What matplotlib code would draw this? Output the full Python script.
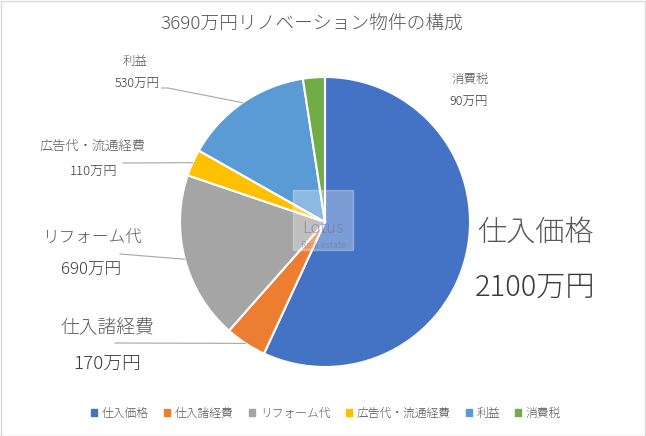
import numpy as np
import matplotlib
matplotlib.use("Agg")
import matplotlib.pyplot as plt

plt.rcParams['font.family'] = ['Noto Sans CJK JP', 'DejaVu Sans']
plt.rcParams['font.weight'] = 'light'

# データ
categories = ["仕入価格", "仕入諸経費", "リフォーム代", "広告代・流通経費", "利益", "消費税"]
values = [2100, 170, 690, 110, 530, 90]
value_labels = ["2100万円", "170万円", "690万円", "110万円", "530万円", "90万円"]
colors = ["#4472C4", "#ED7D31", "#A5A5A5", "#FFC000", "#5B9BD5", "#70AD47"]
title = "3690万円リノベーション物件の構成"

W, H = 646, 436
fig = plt.figure(figsize=(W / 100, H / 100), dpi=100)
ax = fig.add_axes([0, 0, 1, 1])

cx, cy, r = 325, H - 222, 145
wedges, _ = ax.pie(values, colors=colors, startangle=90, counterclock=False,
                   center=(cx, cy), radius=r,
                   wedgeprops=dict(edgecolor="white", linewidth=1.5))
ax.set_xlim(0, W)
ax.set_ylim(0, H)
ax.set_aspect("equal")
ax.axis("off")

txt = "#595959"
# ラベル配置 (名前の位置, 値の位置, 文字サイズ, 引き出し線の始点)
label_layout = [
    ((535, 233), (535, 287), 21, None),
    ((107, 328), (107, 364), 13.5, (115, 343)),
    ((92, 238), (91, 269), 12, (120, 254)),
    ((92, 146), (94, 171), 9.5, (123, 163)),
    ((135, 62), (137, 83), 9, (162, 88)),
    ((470, 79), (469, 101), 9, None),
]

for w, name, vlab, (p1, p2, fs, ls) in zip(wedges, categories, value_labels, label_layout):
    ax.text(p1[0], H - p1[1], name, fontsize=fs, color=txt, ha="center", va="center")
    ax.text(p2[0], H - p2[1], vlab, fontsize=fs, color="#3A3A3A", ha="center", va="center")
    if ls is not None:
        mid = np.deg2rad((w.theta1 + w.theta2) / 2)
        ex, ey = cx + r * np.cos(mid), cy + r * np.sin(mid)
        xs = [ls[0], ls[0] + 6, ex] if ls[1] == 88 else [ls[0], ex]
        ys = [H - ls[1], H - ls[1], ey] if ls[1] == 88 else [H - ls[1], ey]
        ax.plot(xs, ys, color="#A6A6A6", linewidth=0.8)

# タイトル
ax.text(312, H - 24, title, fontsize=13.5, color=txt, ha="center", va="center")

# 透かし
ax.add_patch(plt.Rectangle((293, H - 250), 60, 60, color="white", alpha=0.3, zorder=3))
ax.text(323, H - 229, "Lotus", fontsize=12, color="#6F6F8F", alpha=0.6,
        ha="center", va="center", zorder=4)
ax.text(323, H - 245, "Real estate", fontsize=6.5, color="#6F6F8F", alpha=0.6,
        ha="center", va="center", zorder=4)

# 凡例
handles = [plt.Rectangle((0, 0), 1, 1, color=c) for c in colors]
fig.legend(handles, categories, loc="center", bbox_to_anchor=(0.505, 1 - 413 / H),
           ncol=6, frameon=False, fontsize=8.5, handlelength=0.5, handleheight=0.5,
           handletextpad=0.4, columnspacing=1.3, labelcolor=txt)

# 枠線
fig.patches.append(plt.Rectangle((0.001, 0.001), 0.997, 0.996, transform=fig.transFigure,
                                 fill=False, edgecolor="#D9D9D9", linewidth=1))

plt.savefig("out.png", dpi=100)
